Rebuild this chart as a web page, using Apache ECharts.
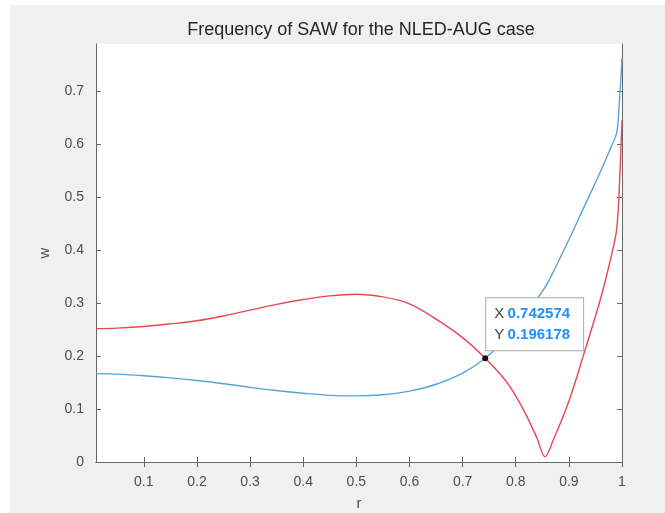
<!DOCTYPE html>
<html>
<head>
<meta charset="utf-8">
<script src="https://cdn.jsdelivr.net/npm/echarts@6/dist/echarts.min.js"></script>
<style>
html,body{margin:0;padding:0;background:#fff;}
#chart{position:absolute;left:10px;top:5px;width:655px;height:508px;}
</style>
</head>
<body>
<div id="chart"></div>
<script>
// values
var rVals=[0.01,0.05,0.1,0.15,0.2,0.25,0.3,0.35,0.4,0.45,0.5,0.55,0.6,0.65,0.7,0.742574,0.78,0.8,0.82,0.84,0.855,0.87,0.9,0.93,0.96,0.98,0.99,0.995,1.0];
var blueW=[0.167,0.166,0.163,0.159,0.154,0.148,0.141,0.135,0.130,0.126,0.125,0.127,0.134,0.147,0.168,0.196,0.232,0.255,0.282,0.308,0.330,0.358,0.420,0.485,0.550,0.597,0.622,0.680,0.763];
var redW=[0.252,0.253,0.256,0.261,0.267,0.276,0.287,0.298,0.307,0.314,0.317,0.312,0.299,0.270,0.235,0.196,0.155,0.125,0.088,0.045,0.010,0.040,0.115,0.210,0.310,0.390,0.440,0.520,0.646];
var xTicks=[0.1,0.2,0.3,0.4,0.5,0.6,0.7,0.8,0.9,1];
var yTicks=[0,0.1,0.2,0.3,0.4,0.5,0.6,0.7];
var tipX="0.742574", tipY="0.196178";

function pairs(xs,ys){
    var out=[];
    for(var i=0;i<xs.length;i++){ out.push([xs[i],ys[i]]); }
    return out;
}

var chart=echarts.init(document.getElementById("chart"));
var axisGray="#666";
var font="Liberation Sans";
var option={
    backgroundColor:"#f0f0f0",
    animation:false,
    title:{
        text:"Frequency of SAW for the NLED-AUG case",
        left:351,
        textAlign:"center",
        top:16,
        padding:0,
        textStyle:{color:"#262626",fontSize:18,fontWeight:"normal",fontFamily:font}
    },
    grid:{
        left:86,right:43,top:39,bottom:51,
        outerBoundsMode:"none",
        show:true,backgroundColor:"#fff",borderWidth:0
    },
    xAxis:[{
        type:"value",min:0.01,max:1,position:"bottom",
        name:"r",nameLocation:"middle",nameGap:34,
        nameTextStyle:{color:"#4d4d4d",fontSize:15,fontFamily:font},
        axisLine:{lineStyle:{color:axisGray,width:1}},
        axisTick:{inside:true,length:5,customValues:xTicks,lineStyle:{color:axisGray}},
        axisLabel:{customValues:xTicks,color:"#4d4d4d",fontSize:14,fontFamily:font,margin:13,
            formatter:function(v){return String(+v.toFixed(2));}},
        splitLine:{show:false}
    },{
        type:"value",min:0.01,max:1,position:"top",
        axisLine:{lineStyle:{color:axisGray,width:1}},
        axisTick:{inside:true,length:5,customValues:xTicks,lineStyle:{color:axisGray}},
        axisLabel:{show:false},
        splitLine:{show:false}
    }],
    yAxis:[{
        type:"value",min:0,max:0.79,position:"left",
        name:"w",nameLocation:"middle",nameGap:44,nameRotate:90,
        nameTextStyle:{color:"#4d4d4d",fontSize:15,fontFamily:font},
        axisLine:{show:true,lineStyle:{color:axisGray,width:1}},
        axisTick:{show:true,inside:true,length:5,customValues:yTicks,lineStyle:{color:axisGray}},
        axisLabel:{customValues:yTicks,color:"#4d4d4d",fontSize:14,fontFamily:font,margin:12,
            formatter:function(v){return String(+v.toFixed(2));}},
        splitLine:{show:false}
    },{
        type:"value",min:0,max:0.79,position:"right",
        axisLine:{show:true,lineStyle:{color:axisGray,width:1}},
        axisTick:{show:true,inside:true,length:5,customValues:yTicks,lineStyle:{color:axisGray}},
        axisLabel:{show:false},
        splitLine:{show:false}
    }],
    series:[{
        name:"blue",type:"line",
        data:pairs(rVals,blueW),
        smooth:0.35,
        showSymbol:false,
        lineStyle:{color:"#5aa2d8",width:1.4}
    },{
        name:"red",type:"line",
        data:pairs(rVals,redW),
        smooth:0.35,
        showSymbol:false,
        lineStyle:{color:"#e8474f",width:1.4},
        z:3,
        markPoint:{
            symbol:"circle",symbolSize:6,
            itemStyle:{color:"#111"},
            data:[{coord:[+tipX,+tipY],value:0}],
            label:{
                show:true,
                position:[4,-57],
                backgroundColor:"#fff",
                borderColor:"#a8a8a8",borderWidth:1,
                padding:[5,13,5,8],
                formatter:"{k|X} {v|"+tipX+"}\n{k|Y} {v|"+tipY+"}",
                rich:{
                    k:{color:"#444",fontSize:15,fontFamily:font,lineHeight:21},
                    v:{color:"#1e90ff",fontSize:15,fontWeight:"bold",fontFamily:font,lineHeight:21}
                }
            }
        }
    }]
};
chart.setOption(option);
</script>
</body>
</html>
